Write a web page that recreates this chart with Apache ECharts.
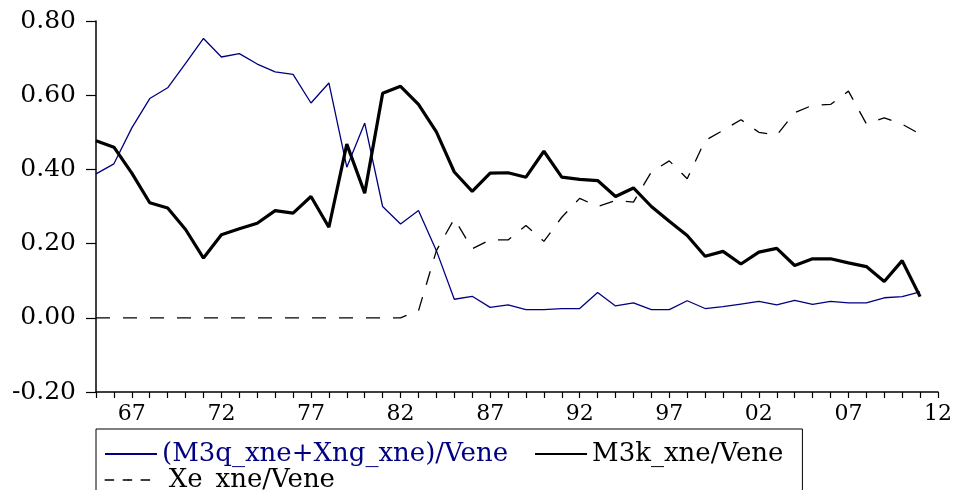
<!DOCTYPE html>
<html>
<head>
<meta charset="utf-8">
<script src="https://cdn.jsdelivr.net/npm/echarts@6/dist/echarts.min.js"></script>
<style>
  html, body { margin: 0; padding: 0; background: #fff; }
  #main { width: 955px; height: 490px; }
</style>
</head>
<body>
<div id="main"></div>
<script>
// years on the axis (last one has no data, axis ends there)
var years = ['1965', '1966', '1967', '1968', '1969', '1970', '1971', '1972', '1973', '1974',
  '1975', '1976', '1977', '1978', '1979', '1980', '1981', '1982', '1983', '1984',
  '1985', '1986', '1987', '1988', '1989', '1990', '1991', '1992', '1993', '1994',
  '1995', '1996', '1997', '1998', '1999', '2000', '2001', '2002', '2003', '2004',
  '2005', '2006', '2007', '2008', '2009', '2010', '2011', '2012'];

// (M3q_xne+Xng_xne)/Vene
var m3qXng = [0.388, 0.415, 0.512, 0.591, 0.620, 0.686, 0.753, 0.703, 0.712, 0.684, 0.663, 0.656,
  0.579, 0.633, 0.406, 0.525, 0.300, 0.253, 0.289, 0.181, 0.050, 0.058, 0.028, 0.035,
  0.022, 0.022, 0.025, 0.025, 0.068, 0.032, 0.040, 0.022, 0.022, 0.046, 0.025, 0.030,
  0.037, 0.044, 0.035, 0.047, 0.036, 0.044, 0.040, 0.040, 0.054, 0.057, 0.070];

// M3k_xne/Vene
var m3k = [0.477, 0.460, 0.390, 0.310, 0.296, 0.238, 0.161, 0.224, 0.240, 0.255, 0.289, 0.282,
  0.327, 0.244, 0.468, 0.336, 0.605, 0.624, 0.575, 0.501, 0.393, 0.341, 0.390, 0.391,
  0.379, 0.449, 0.379, 0.373, 0.370, 0.327, 0.350, 0.300, 0.260, 0.222, 0.166, 0.179,
  0.145, 0.177, 0.187, 0.141, 0.159, 0.159, 0.148, 0.138, 0.098, 0.154, 0.057];

// Xe_xne/Vene
var xe = [0, 0, 0, 0, 0, 0, 0, 0, 0, 0, 0, 0,
  0, 0, 0, 0, 0, 0, 0.019, 0.181, 0.267, 0.186, 0.210, 0.210,
  0.249, 0.206, 0.271, 0.322, 0.300, 0.316, 0.312, 0.393, 0.423, 0.375, 0.478, 0.505,
  0.534, 0.500, 0.492, 0.553, 0.573, 0.575, 0.611, 0.523, 0.539, 0.522, 0.495];

var yTicks = [-0.2, 0, 0.2, 0.4, 0.6, 0.8];

var FONT = 'DejaVu Serif';
var NAVY = '#000080';

var legendText = {
  fontFamily: FONT,
  fontSize: 26,
  color: '#000'
};

var chart = echarts.init(document.getElementById('main'), null, { renderer: 'canvas' });

chart.setOption({
  animation: false,
  backgroundColor: '#fff',
  grid: {
    left: 96,
    right: 16,
    top: 21,
    bottom: 98
  },
  // legend box, first row + second row
  legend: [
    {
      left: 96,
      top: 429,
      padding: [12, 19, 44, 8],
      borderColor: '#000',
      borderWidth: 1,
      itemWidth: 52,
      itemHeight: 2,
      itemGap: 26,
      textStyle: legendText,
      data: [
        { name: '(M3q_xne+Xng_xne)/Vene', textStyle: { color: NAVY } },
        { name: 'M3k_xne/Vene' }
      ]
    },
    {
      left: 96,
      top: 467,
      padding: [0, 0, 0, 8],
      itemWidth: 47,
      itemHeight: 2,
      // icon dash is drawn scaled up, so it is set smaller here
      lineStyle: { width: 1.3, type: [9.5, 8.5] },
      textStyle: Object.assign({ padding: [0, 0, 0, 12] }, legendText),
      data: [{ name: 'Xe_xne/Vene' }]
    }
  ],
  xAxis: {
    type: 'category',
    data: years,
    boundaryGap: false,
    axisLine: { onZero: false, lineStyle: { color: '#000', width: 1.5 } },
    axisTick: {
      interval: 0,
      length: 6,
      lineStyle: { color: '#000', width: 1.2 }
    },
    axisLabel: {
      interval: function (index, value) {
        return (Number(value) - 1967) % 5 === 0;
      },
      formatter: function (value) {
        return value.slice(2);
      },
      margin: 11,
      fontFamily: FONT,
      fontSize: 22,
      color: '#000'
    },
    splitLine: { show: false }
  },
  yAxis: {
    type: 'value',
    min: yTicks[0],
    max: yTicks[yTicks.length - 1],
    interval: 0.2,
    axisLine: { show: true, lineStyle: { color: '#000', width: 1.5 } },
    axisTick: { show: true, length: 10, lineStyle: { color: '#000', width: 1.2 } },
    axisLabel: {
      formatter: function (v) { return v.toFixed(2); },
      margin: 20,
      fontFamily: FONT,
      fontSize: 25,
      color: '#000'
    },
    splitLine: { show: false }
  },
  series: [
    {
      name: '(M3q_xne+Xng_xne)/Vene',
      type: 'line',
      data: m3qXng,
      symbol: 'none',
      color: NAVY,
      lineStyle: { color: NAVY, width: 1.3 }
    },
    {
      name: 'M3k_xne/Vene',
      type: 'line',
      data: m3k,
      symbol: 'none',
      color: '#000',
      lineStyle: { color: '#000', width: 3.2 }
    },
    {
      name: 'Xe_xne/Vene',
      type: 'line',
      data: xe,
      symbol: 'none',
      color: '#000',
      lineStyle: { color: '#000', width: 1.3, type: [14, 13] }
    }
  ]
});
</script>
</body>
</html>
